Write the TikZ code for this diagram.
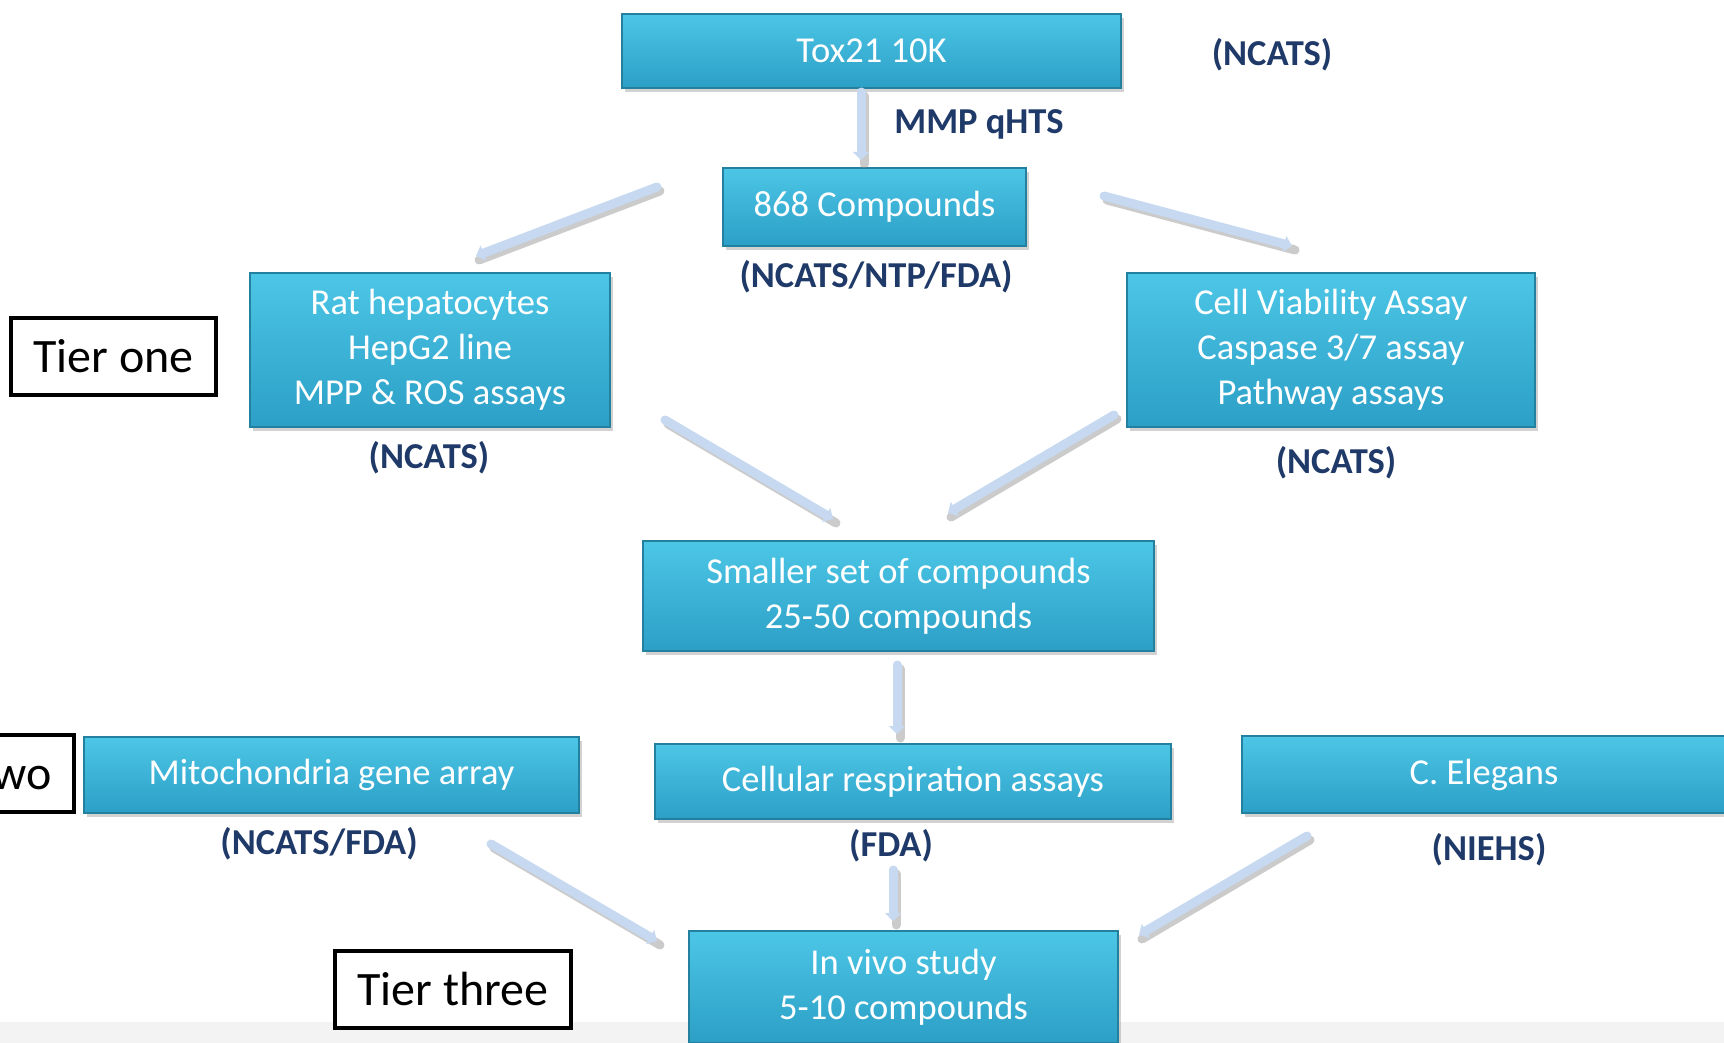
\documentclass[tikz,border=0pt]{standalone}
\usepackage{fontspec}
\setmainfont{Carlito}
\usetikzlibrary{arrows.meta,shadows}
\definecolor{boxtop}{HTML}{4CC6E6}
\definecolor{boxbot}{HTML}{2C9FC6}
\definecolor{boxedge}{HTML}{23809E}
\definecolor{lbl}{HTML}{1F3A68}
\definecolor{arr}{HTML}{C6D9F0}
\definecolor{band}{HTML}{F3F3F3}
\tikzset{
  box/.style={draw=boxedge, line width=1.2pt, top color=boxtop, bottom color=boxbot,
    text=white, align=center, font=\fontsize{36.5}{45}\selectfont, inner sep=0pt,
    drop shadow={shadow xshift=3pt, shadow yshift=-4pt, opacity=0.35}},
  tierbox/.style={draw=black, line width=4.5pt, fill=white, font=\fontsize{48}{56}\selectfont,
    minimum height=77pt, inner sep=0pt},
  lab/.style={text=lbl, font=\bfseries\fontsize{36.5}{42}\selectfont, inner sep=0pt},
  flow/.style={draw=arr, line width=9pt, line cap=round, -{Triangle[width=16pt,length=8pt]}},
  flowshadow/.style={draw=black!45, opacity=0.45, line width=9pt, line cap=round}
}
\begin{document}
\begin{tikzpicture}[x=1pt,y=-1pt]
\useasboundingbox (0,0) rectangle (1724,1043);
\clip (0,0) rectangle (1724,1043);
\fill[white] (0,0) rectangle (1724,1043);
\fill[band] (0,1022) rectangle (1724,1043);

% boxes
\node[box, minimum width=499pt, minimum height=74pt] (tox) at (871.5,51) {Tox21 10K};
\node[box, minimum width=303pt, minimum height=78pt] (c868) at (874.5,207) {868 Compounds};
\node[box, minimum width=360pt, minimum height=154pt] (rat) at (430,350) {Rat hepatocytes\\HepG2 line\\MPP \& ROS assays};
\node[box, minimum width=408pt, minimum height=154pt] (cell) at (1331,350) {Cell Viability Assay\\Caspase 3/7 assay\\Pathway assays};
\node[box, minimum width=511pt, minimum height=110pt] (small) at (898.5,596) {Smaller set of compounds\\25-50 compounds};
\node[box, minimum width=495pt, minimum height=76pt] (mito) at (331.5,775) {Mitochondria gene array};
\node[box, minimum width=516pt, minimum height=75pt] (resp) at (913,781.5) {Cellular respiration assays};
\node[box, minimum width=484pt, minimum height=77pt] (eleg) at (1484,774.5) {C. Elegans};
\node[box, minimum width=429pt, minimum height=112pt] (vivo) at (903.5,987) {In vivo study\\5-10 compounds};

% tier boxes
\node[tierbox, minimum width=205pt] (tier1) at (113.5,356.5) {Tier one};
\node[tierbox, minimum width=205pt] (tier2) at (-28.5,773.5) {Tier two};
\node[tierbox, minimum width=236pt] (tier3) at (453,989.5) {Tier three};

% labels
\node[lab] (l1) at (1272,55) {(NCATS)};
\node[lab] (l2) at (979,124) {MMP qHTS};
\node[lab] (l3) at (876,277) {(NCATS/NTP/FDA)};
\node[lab] (l4) at (429,458) {(NCATS)};
\node[lab] (l5) at (1336,463) {(NCATS)};
\node[lab] (l6) at (319,844) {(NCATS/FDA)};
\node[lab] (l7) at (891,846) {(FDA)};
\node[lab] (l8) at (1489,850) {(NIEHS)};

% arrow end points
\coordinate (a1s) at (861,92);   \coordinate (a1e) at (861,160);
\coordinate (a2s) at (657,187);  \coordinate (a2e) at (476,256);
\coordinate (a3s) at (1104,196); \coordinate (a3e) at (1292,246);
\coordinate (a4s) at (665,420);  \coordinate (a4e) at (833,519);
\coordinate (a5s) at (1114,415); \coordinate (a5e) at (948,513);
\coordinate (a6s) at (897,665);  \coordinate (a6e) at (897,734);
\coordinate (a7s) at (491,844);  \coordinate (a7e) at (657,941);
\coordinate (a8s) at (893,870);  \coordinate (a8e) at (893,921);
\coordinate (a9s) at (1307,836); \coordinate (a9e) at (1139,935);

\foreach \s/\e in {a1s/a1e,a2s/a2e,a3s/a3e,a4s/a4e,a5s/a5e,a6s/a6e,a7s/a7e,a8s/a8e,a9s/a9e}{
  \draw[flowshadow] ([shift={(3,4)}]\s) -- ([shift={(3,4)}]\e);
  \draw[flow] (\s) -- (\e);
}
\end{tikzpicture}
\end{document}
